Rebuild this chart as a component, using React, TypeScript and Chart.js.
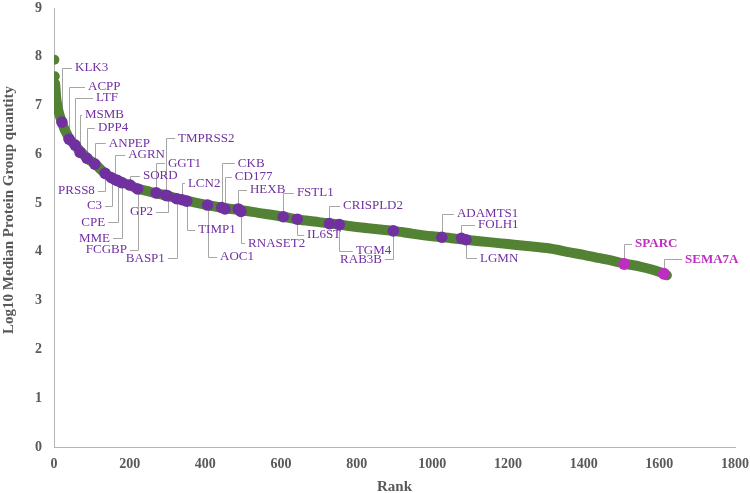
import React, { useEffect, useRef } from 'react';
import { Chart, registerables } from 'chart.js';

Chart.register(...registerables);

// ---- data ----
const topRanks = [1, 2];
const topValues = [7.94, 7.6];

const curveRanks = [3, 4, 5, 6, 8, 11, 15, 21, 27, 34, 40, 48, 56, 63, 70, 80, 90, 100, 110, 122, 135, 150, 165, 180, 200, 220, 245, 270, 296, 324, 350, 380, 406, 440, 490, 540, 606, 650, 700, 754, 800, 850, 897, 950, 1000, 1050, 1100, 1150, 1200, 1250, 1311, 1364, 1400, 1443, 1480, 1507, 1549, 1580, 1600, 1612, 1620];
const curveValues = [7.45, 7.36, 7.25, 7.15, 7.04, 6.92, 6.8, 6.66, 6.53, 6.42, 6.32, 6.25, 6.19, 6.12, 6.06, 5.98, 5.9, 5.85, 5.79, 5.7, 5.61, 5.53, 5.47, 5.42, 5.37, 5.3, 5.25, 5.2, 5.16, 5.1, 5.05, 5.0, 4.96, 4.91, 4.86, 4.8, 4.72, 4.66, 4.61, 4.56, 4.51, 4.47, 4.43, 4.37, 4.32, 4.28, 4.24, 4.2, 4.16, 4.12, 4.07, 3.99, 3.94, 3.87, 3.81, 3.76, 3.7, 3.64, 3.59, 3.55, 3.52];

const markerGenes = ['KLK3', 'ACPP', 'LTF', 'MSMB', 'DPP4', 'ANPEP', 'PRSS8', 'C3', 'AGRN', 'CPE', 'MME', 'SORD', 'FCGBP', 'GGT1', 'TMPRSS2', 'GP2', 'BASP1', 'LCN2', 'TIMP1', 'AOC1', 'CKB', 'CD177', 'HEXB', 'RNASET2', 'FSTL1', 'IL6ST', 'CRISPLD2', 'TGM4', 'RAB3B', 'ADAMTS1', 'FOLH1', 'LGMN'];
const markerRanks = [21, 40, 56, 69, 87, 108, 135, 152, 162, 168, 179, 201, 221, 270, 296, 300, 324, 338, 351, 406, 443, 452, 487, 494, 606, 643, 728, 754, 897, 1025, 1077, 1089];
const markerValues = [6.66, 6.31, 6.19, 6.04, 5.92, 5.8, 5.61, 5.52, 5.48, 5.46, 5.42, 5.37, 5.29, 5.21, 5.16, 5.15, 5.09, 5.07, 5.04, 4.96, 4.91, 4.88, 4.88, 4.83, 4.72, 4.67, 4.58, 4.56, 4.43, 4.3, 4.28, 4.25];

const keyGenes = ['SPARC', 'SEMA7A'];
const keyRanks = [1507, 1612];
const keyValues = [3.75, 3.55];

// label anchors (in rank / value units), for markerGenes followed by keyGenes
const labelRanks = [55.5, 89.9, 111, 82, 116, 145, 108, 127, 196, 135, 148, 235, 193, 301, 328, 262, 293, 354, 381, 439, 486, 478, 518, 513, 642, 669, 764, 798, 867, 1065, 1121, 1126, 1536, 1668];
const labelValues = [7.77, 7.38, 7.16, 6.81, 6.54, 6.23, 5.25, 4.94, 5.99, 4.61, 4.28, 5.56, 4.04, 5.82, 6.33, 4.82, 3.87, 5.41, 4.45, 3.9, 5.82, 5.54, 5.27, 4.18, 5.21, 4.35, 4.94, 4.02, 3.85, 4.78, 4.55, 3.87, 4.16, 3.85];
const labelSides = ['r', 'r', 'r', 'r', 'r', 'r', 'l', 'l', 'r', 'l', 'l', 'r', 'l', 'r', 'r', 'l', 'l', 'r', 'r', 'r', 'r', 'r', 'r', 'r', 'r', 'r', 'r', 'r', 'l', 'r', 'r', 'r', 'r', 'r'];

const xTicks = [0, 200, 400, 600, 800, 1000, 1200, 1400, 1600, 1800];
const yTicks = [0, 1, 2, 3, 4, 5, 6, 7, 8, 9];

const GREEN = '#548235';
const PURPLE = '#7030A0';
const MAGENTA = '#BE2EBE';
const AXIS_TEXT = '#595959';
const AXIS_LINE = '#b4b4b4';
const LEADER = '#a6a6a6';
const SERIF = '"Liberation Serif", "Times New Roman", serif';

const labelPlugin = {
  id: 'geneLabels',
  beforeDatasetsDraw(chart: any) {
    const { ctx } = chart;
    const xs = chart.scales.x;
    const ys = chart.scales.y;
    const allRanks = [...markerRanks, ...keyRanks];
    const allValues = [...markerValues, ...keyValues];
    ctx.save();
    ctx.strokeStyle = LEADER;
    ctx.lineWidth = 1;
    for (let i = 0; i < allRanks.length; i++) {
      const px = Math.round(xs.getPixelForValue(allRanks[i])) + 0.5;
      const py = ys.getPixelForValue(allValues[i]);
      const lx = xs.getPixelForValue(labelRanks[i]);
      const ly = Math.round(ys.getPixelForValue(labelValues[i])) + 0.5;
      const endY = ly < py ? py - 5 : py + 5;
      const hx = labelSides[i] === 'r' ? lx - 3 : lx + 3;
      ctx.beginPath();
      ctx.moveTo(px, endY);
      ctx.lineTo(px, ly);
      ctx.lineTo(hx, ly);
      ctx.stroke();
    }
    ctx.restore();
  },
  afterDatasetsDraw(chart: any) {
    const { ctx } = chart;
    const xs = chart.scales.x;
    const ys = chart.scales.y;
    const names = [...markerGenes, ...keyGenes];
    ctx.save();
    ctx.textBaseline = 'middle';
    for (let i = 0; i < names.length; i++) {
      const isKey = i >= markerGenes.length;
      ctx.font = (isKey ? 'bold ' : '') + '13px ' + SERIF;
      ctx.fillStyle = isKey ? MAGENTA : PURPLE;
      ctx.textAlign = labelSides[i] === 'r' ? 'left' : 'right';
      ctx.fillText(names[i], xs.getPixelForValue(labelRanks[i]), ys.getPixelForValue(labelValues[i]));
    }
    // axis titles
    ctx.fillStyle = AXIS_TEXT;
    ctx.font = 'bold 15px ' + SERIF;
    ctx.textAlign = 'center';
    ctx.fillText('Rank', (chart.chartArea.left + chart.chartArea.right) / 2, 487);
    ctx.translate(9, 210);
    ctx.rotate(-Math.PI / 2);
    ctx.fillText('Log10 Median Protein Group quantity', 0, 0);
    ctx.restore();
  },
};

export default function App() {
  const ref = useRef<HTMLCanvasElement>(null);
  useEffect(() => {
    if (!ref.current) return;
    const chart = new Chart(ref.current, {
      type: 'scatter',
      data: {
        datasets: [
          {
            label: 'key',
            data: keyRanks.map((r, i) => ({ x: r, y: keyValues[i] })),
            pointRadius: 6,
            pointBackgroundColor: MAGENTA,
            pointBorderWidth: 0,
            showLine: false,
          },
          {
            label: 'markers',
            data: markerRanks.map((r, i) => ({ x: r, y: markerValues[i] })),
            pointRadius: 5.8,
            pointBackgroundColor: PURPLE,
            pointBorderWidth: 0,
            showLine: false,
          },
          {
            label: 'top',
            data: topRanks.map((r, i) => ({ x: r, y: topValues[i] })),
            pointRadius: 5,
            pointBackgroundColor: GREEN,
            pointBorderWidth: 0,
            showLine: false,
          },
          {
            label: 'proteins',
            data: curveRanks.map((r, i) => ({ x: r, y: curveValues[i] })),
            showLine: true,
            borderColor: GREEN,
            borderWidth: 10,
            borderCapStyle: 'round',
            borderJoinStyle: 'round',
            cubicInterpolationMode: 'monotone',
            pointRadius: 0,
          } as any,
        ],
      },
      options: {
        responsive: false,
        devicePixelRatio: 1,
        animation: false,
        layout: { padding: { left: 0, right: 15, top: 8, bottom: 0 } },
        plugins: { legend: { display: false }, tooltip: { enabled: false } },
        scales: {
          x: {
            type: 'linear',
            min: 0,
            max: 1800,
            afterFit: (s: any) => { s.height = 46; s.paddingLeft = 0; s.paddingRight = 0; },
            afterBuildTicks: (s: any) => { s.ticks = xTicks.map((v) => ({ value: v })); },
            grid: { display: false, drawTicks: false },
            border: { display: true, color: AXIS_LINE, width: 1 },
            ticks: { color: AXIS_TEXT, font: { family: SERIF, size: 14, weight: 'bold' }, padding: 9, maxRotation: 0, callback: (v: any) => String(v) },
          },
          y: {
            type: 'linear',
            min: 0,
            max: 9,
            afterFit: (s: any) => { s.width = 54; s.paddingTop = 0; s.paddingBottom = 0; },
            afterBuildTicks: (s: any) => { s.ticks = yTicks.map((v) => ({ value: v })); },
            grid: { display: false, drawTicks: false },
            border: { display: true, color: AXIS_LINE, width: 1 },
            ticks: { color: AXIS_TEXT, font: { family: SERIF, size: 14, weight: 'bold' }, padding: 12, callback: (v: any) => String(v) },
          },
        },
      } as any,
      plugins: [labelPlugin],
    });
    return () => chart.destroy();
  }, []);
  return (
    <div style={{ position: 'absolute', left: 0, top: 0, width: 750, height: 493, background: '#ffffff' }}>
      <canvas ref={ref} width={750} height={493} style={{ display: 'block', width: 750, height: 493 }} />
    </div>
  );
}
